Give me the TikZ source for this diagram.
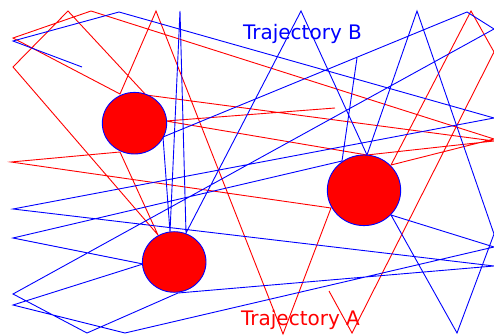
\documentclass[tikz,border=0pt]{standalone}
\usepackage{fontspec}
\setmainfont{DejaVu Sans}
\begin{document}
\begin{tikzpicture}[x=1pt, y=-1pt, line join=miter,
    trajA/.style={red, line width=0.9pt},
    trajB/.style={blue, line width=0.9pt},
    obstacle/.style={fill=red, draw=blue, line width=0.9pt},
    lbl/.style={font=\fontsize{20}{24}\selectfont, anchor=base, inner sep=0pt}]
\useasboundingbox (0,0) rectangle (494,336);
% trajectory A
\draw[trajA] (335,108) -- (166,121) -- (367,155) -- (494,141) -- (146,95) -- (68,11) -- (13,67) -- (158,235) -- (120,152) -- (11,162) -- (331,208) -- (283,334) -- (156,11) -- (120,94) -- (13,38) -- (91,11) -- (494,139) -- (391,165) -- (471,11) -- (494,52) -- (352,333) -- (329,291);
% trajectory B
\draw[trajB] (82,67) -- (13,41) -- (119,12) -- (494,118) -- (13,209) -- (494,266) -- (178,293) -- (87,333) -- (13,294) -- (494,29) -- (467,12) -- (163,137) -- (170,232) -- (180,11) -- (186,233) -- (301,11) -- (367,155) -- (417,11) -- (494,234) -- (457,333) -- (391,215) -- (494,247) -- (125,333) -- (13,305) -- (143,264) -- (13,238) -- (342,161) -- (357,58);
% obstacles
\foreach \x/\y/\rx/\ry in {134.5/123.2/32.2/30.8, 174.2/262/31.8/30.3, 364/190.3/36.7/35.3} {
    \draw[obstacle] (\x,\y) ellipse [x radius=\rx pt, y radius=\ry pt];
}
\node[lbl, blue] (labB) at (302.5,40) {Trajectory B};
\node[lbl, red] (labA) at (300.5,325) {Trajectory A};
\end{tikzpicture}
\end{document}
